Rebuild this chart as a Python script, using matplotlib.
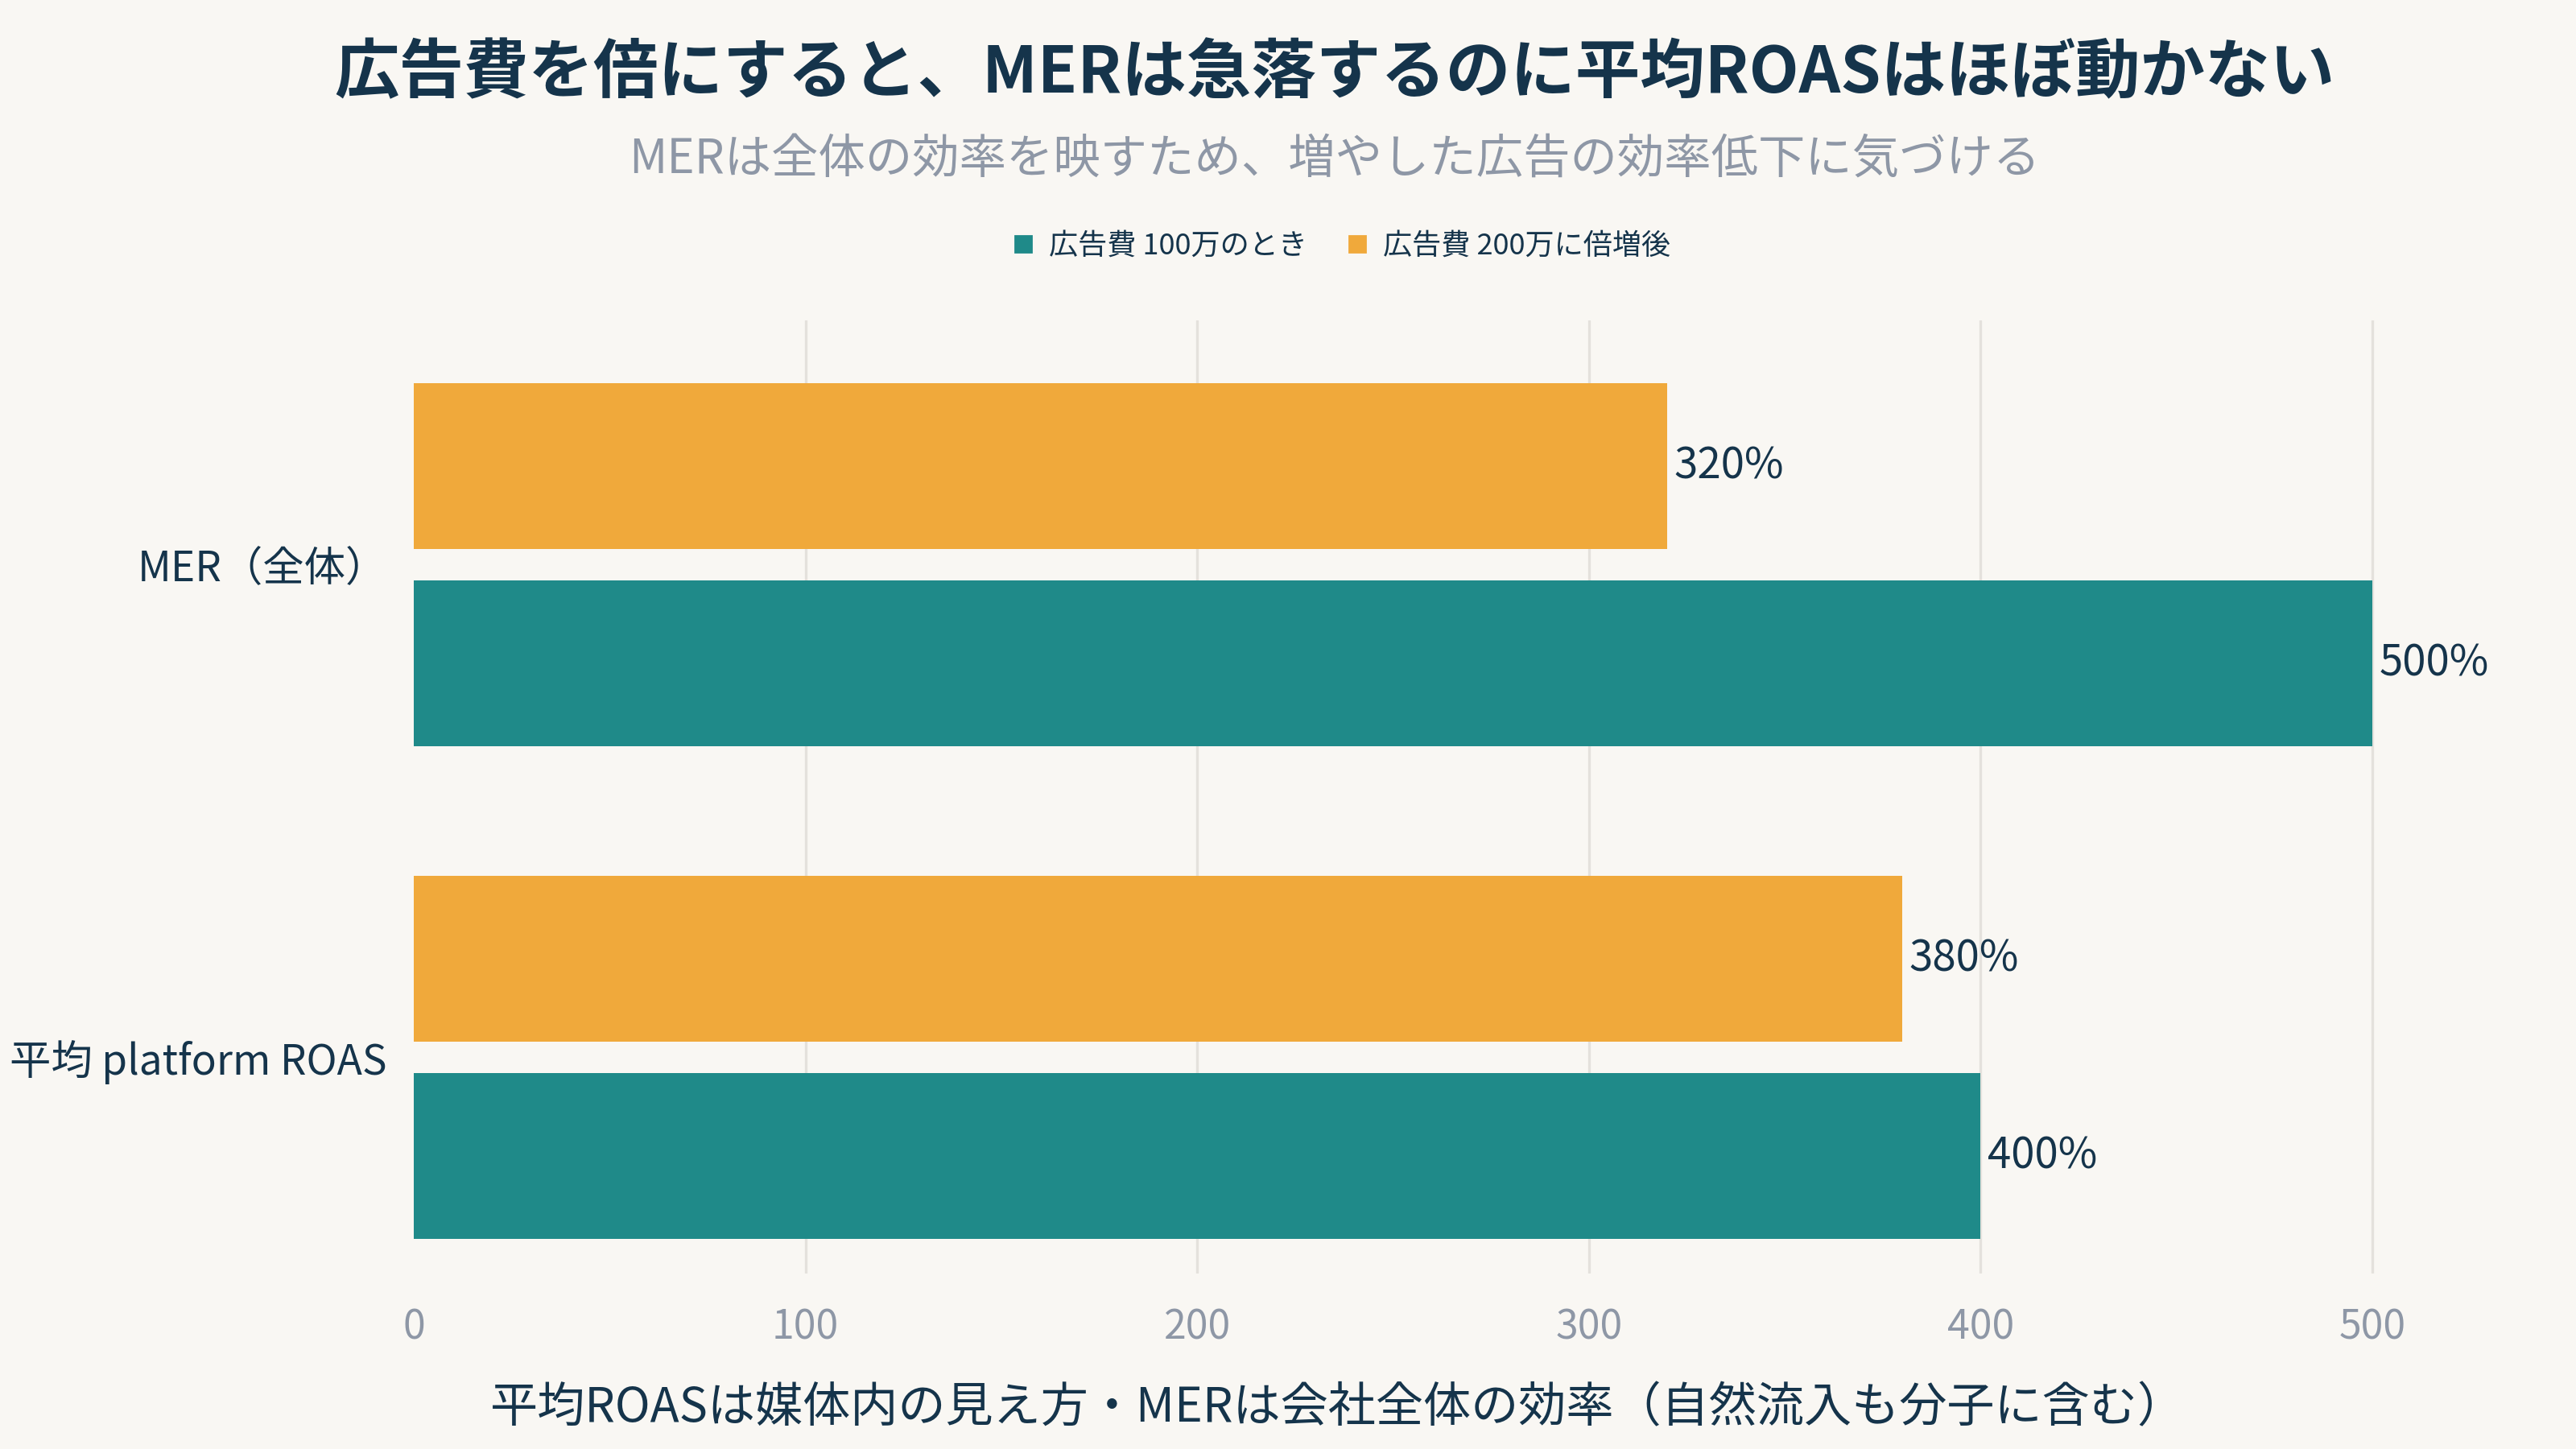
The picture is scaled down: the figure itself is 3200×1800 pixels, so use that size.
import matplotlib
matplotlib.use("Agg")
import matplotlib.pyplot as plt
from matplotlib.lines import Line2D

plt.rcParams["font.family"] = ["Noto Sans CJK JP", "DejaVu Sans"]

# data
categories = ["MER（全体）", "平均 platform ROAS"]
series_names = ["広告費 100万のとき", "広告費 200万に倍増後"]
before_vals = [500, 400]
after_vals = [320, 380]
x_ticks = [0, 100, 200, 300, 400, 500]

TITLE = "広告費を倍にすると、MERは急落するのに平均ROASはほぼ動かない"
SUBTITLE = "MERは全体の効率を映すため、増やした広告の効率低下に気づける"
XLABEL = "平均ROASは媒体内の見え方・MERは会社全体の効率（自然流入も分子に含む）"

BG = "#F9F7F3"
TEAL = "#1F8A89"
ORANGE = "#F0A93B"
DARK = "#15344B"
GRAY = "#8E97A6"
GRID = "#E4E1DC"

W, H = 3200, 1800
fig = plt.figure(figsize=(16, 9), dpi=200, facecolor=BG)
left, right, top, bottom = 514, 3008, 398, 1582
ax = fig.add_axes([left / W, 1 - bottom / H, (right - left) / W, (bottom - top) / H])
ax.set_facecolor(BG)

ypos = list(range(len(categories)))
bh = 0.337
off = 0.2
b1 = ax.barh([y + off for y in ypos], before_vals, height=bh, color=TEAL, zorder=2)
b2 = ax.barh([y - off for y in ypos], after_vals, height=bh, color=ORANGE, zorder=2)
ax.bar_label(b1, labels=[f"{v}%" for v in before_vals], padding=3, fontsize=19, color=DARK)
ax.bar_label(b2, labels=[f"{v}%" for v in after_vals], padding=3, fontsize=19, color=DARK)

ax.set_xlim(0, (right - left) / 486.6 * 100)
ax.set_ylim(1.439, -0.496)
ax.set_yticks(ypos)
ax.set_yticklabels(categories, fontsize=18.5, color=DARK)
ax.set_xticks(x_ticks)
ax.set_xticklabels([str(t) for t in x_ticks], fontsize=18, color=GRAY)
ax.tick_params(axis="both", length=0)
ax.tick_params(axis="x", pad=15)
ax.tick_params(axis="y", pad=12)
ax.grid(axis="x", color=GRID, linewidth=1.2, zorder=0)
ax.get_xgridlines()[0].set_visible(False)
for s in ax.spines.values():
    s.set_visible(False)

cx = 0.518
fig.text(cx, 0.949, TITLE, ha="center", va="center", fontsize=29, fontweight="bold", color=DARK)
fig.text(cx, 0.89, SUBTITLE, ha="center", va="center", fontsize=21, color=GRAY)
fig.text(0.5195, 0.028, XLABEL, ha="center", va="center", fontsize=21.3, color=DARK)

handles = [Line2D([], [], marker="s", linestyle="", markersize=7, color=TEAL),
           Line2D([], [], marker="s", linestyle="", markersize=7, color=ORANGE)]
fig.legend(handles, series_names, loc="center", bbox_to_anchor=(0.52, 0.83), ncol=2,
           frameon=False, fontsize=13, labelcolor=DARK, handletextpad=0.4,
           columnspacing=1.2, handlelength=1.0)

fig.savefig("out.png", dpi=200, facecolor=BG)
